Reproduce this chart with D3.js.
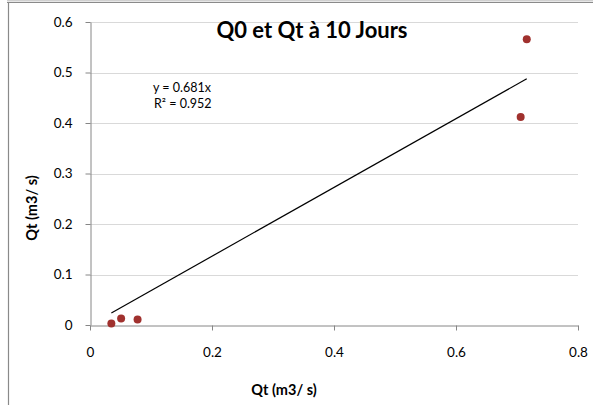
<!DOCTYPE html>
<html><head><meta charset="utf-8">
<script src="https://cdn.jsdelivr.net/npm/d3@7"></script>
<style>html,body{margin:0;padding:0;background:#fff;}svg{display:block;}</style>
</head><body>
<svg id="c" width="593" height="405"></svg>
<script>
const xValues = [0.035, 0.051, 0.078, 0.706, 0.716];
const yValues = [0.003, 0.013, 0.011, 0.412, 0.566];
const slope = 0.681;
const r2 = 0.952;
const xTicks = [0, 0.2, 0.4, 0.6, 0.8];
const yTicks = [0, 0.1, 0.2, 0.3, 0.4, 0.5, 0.6];
const title = "Q0 et Qt à 10 Jours";
const xTitle = "Qt (m3/ s)";
const yTitle = "Qt (m3/ s)";

(function () {
const svg = d3.select("#c");
const font = "Lato, 'Open Sans', sans-serif";
const pLeft = 90, pRight = 578, pTop = 22, pBottom = 325;
const x = d3.scaleLinear().domain([0, 0.8]).range([pLeft, pRight]);
const y = d3.scaleLinear().domain([0, 0.6]).range([pBottom, pTop]);

// frame
svg.append("rect").attr("x", 7).attr("y", 0).attr("width", 586).attr("height", 1.5).attr("fill", "#d0d0d0");
svg.append("line").attr("x1", 7).attr("x2", 593).attr("y1", 2.5).attr("y2", 2.5).attr("stroke", "#8a8a8a").attr("stroke-width", 1);
svg.append("line").attr("x1", 8.5).attr("x2", 8.5).attr("y1", 2).attr("y2", 405).attr("stroke", "#8a8a8a").attr("stroke-width", 1.2);

// gridlines
svg.append("g").selectAll("line").data(yTicks.filter(d => d > 0)).join("line")
  .attr("x1", pLeft).attr("x2", pRight)
  .attr("y1", d => Math.round(y(d)) + 0.5).attr("y2", d => Math.round(y(d)) + 0.5)
  .attr("stroke", "#d9d9d9").attr("stroke-width", 1);

// axes
const xAxis = svg.append("g").attr("transform", `translate(0,${pBottom + 0.5})`)
  .call(d3.axisBottom(x).tickValues(xTicks).tickSize(5).tickSizeOuter(0).tickFormat(d => d3.format("")(d)).tickPadding(17));
const yAxis = svg.append("g").attr("transform", `translate(${pLeft + 0.5},0)`)
  .call(d3.axisLeft(y).tickValues(yTicks).tickSize(5).tickSizeOuter(0).tickFormat(d => d3.format("")(d)).tickPadding(13));
[xAxis, yAxis].forEach(a => {
  a.select(".domain").attr("stroke", "#868686");
  a.selectAll(".tick line").attr("stroke", "#868686");
  a.selectAll(".tick text").attr("fill", "#000").style("font-family", font).style("font-size", "13.5px");
});

// trendline
const xMin = d3.min(xValues), xMax = d3.max(xValues);
svg.append("line")
  .attr("x1", x(xMin)).attr("y1", y(slope * xMin))
  .attr("x2", x(xMax)).attr("y2", y(slope * xMax))
  .attr("stroke", "#000").attr("stroke-width", 1.2);

// points
svg.append("g").selectAll("circle").data(xValues.map((v, i) => [v, yValues[i]])).join("circle")
  .attr("cx", d => x(d[0])).attr("cy", d => y(d[1])).attr("r", 4)
  .attr("fill", "#a0312e");

// equation
svg.append("text").attr("x", 153).attr("y", 92).text(`y = ${slope}x`)
  .style("font-family", font).style("font-size", "12.5px").attr("fill", "#000");
svg.append("text").attr("x", 154).attr("y", 108).text(`R² = ${r2}`)
  .style("font-family", font).style("font-size", "12.5px").attr("fill", "#000");

// title
svg.append("text").attr("x", 312).attr("y", 38).attr("text-anchor", "middle").text(title)
  .style("font-family", font).style("font-size", "22px").style("font-weight", "bold");

// axis titles
svg.append("text").attr("x", 284).attr("y", 395).attr("text-anchor", "middle").text(xTitle)
  .style("font-family", font).style("font-size", "14.5px").style("font-weight", "bold");
svg.append("text").attr("transform", "translate(37,208) rotate(-90)").attr("text-anchor", "middle").text(yTitle)
  .style("font-family", font).style("font-size", "14.5px").style("font-weight", "bold");
})();
</script>
</body></html>
